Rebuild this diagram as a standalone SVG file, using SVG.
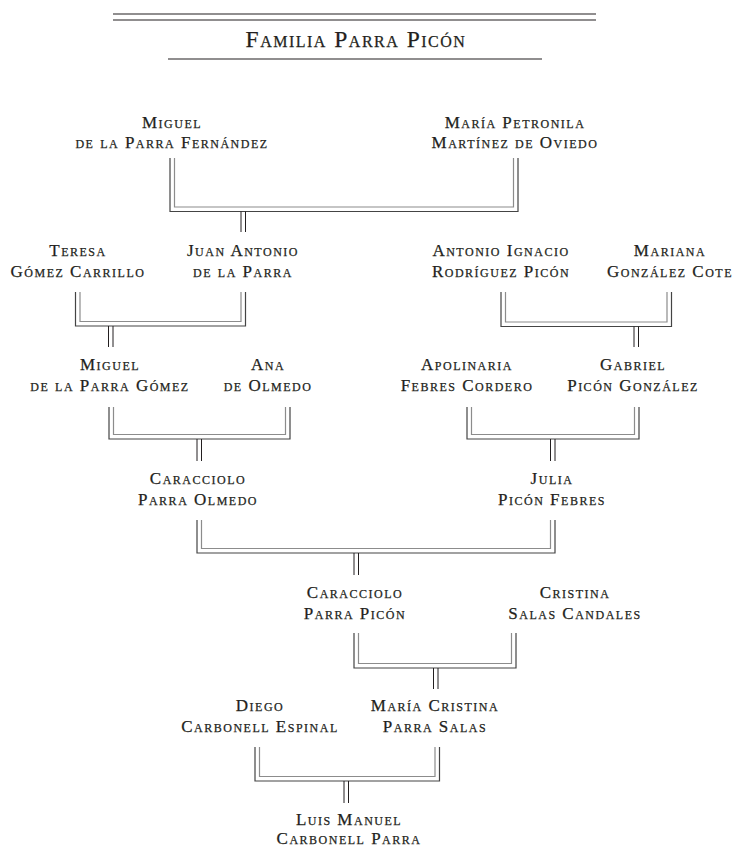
<svg xmlns="http://www.w3.org/2000/svg" width="735" height="848" viewBox="0 0 735 848">
<style>
text{font-family:"Liberation Serif","Times New Roman",serif;font-variant:small-caps;fill:#231f20;text-anchor:middle;stroke:#231f20;stroke-width:0.25}
.t{font-size:23.5px;letter-spacing:1.5px}
.n{font-size:17px;letter-spacing:1.5px}
.rule{stroke:#231f20;stroke-width:1.2;fill:none}
.o{stroke:#444;stroke-width:1.2;fill:none}
.i{stroke:#8c8c8c;stroke-width:1.2;fill:none}
.s{stroke:#231f20;stroke-width:1;fill:none}
</style>
<rect width="735" height="848" fill="#fff"/>
<g id="header">
<line class="rule" x1="113" y1="14" x2="596" y2="14"/>
<line class="rule" x1="113" y1="20" x2="596" y2="20"/>
<text class="t" x="356" y="47">Familia Parra Picón</text>
<line class="rule" x1="168" y1="59" x2="542" y2="59"/>
</g>
<g id="connectors">
<path class="o" d="M170,158V211.5H518V158"/><path class="i" d="M174.5,158V207H513.5V158"/>
<path class="s" d="M241,211.5V232M245.5,211.5V232"/>
<path class="o" d="M75.5,292V326H245.5V292"/><path class="i" d="M80,292V321.5H241V292"/>
<path class="s" d="M108.5,326V347M113,326V347"/>
<path class="o" d="M501,292V326.5H671.5V292"/><path class="i" d="M505.5,292V322H667V292"/>
<path class="s" d="M634,326.5V347M638.5,326.5V347"/>
<path class="o" d="M109,407V439H290V407"/><path class="i" d="M113.5,407V434.5H285.5V407"/>
<path class="s" d="M197,439V461M201.5,439V461"/>
<path class="o" d="M467,407V439H639V407"/><path class="i" d="M471.5,407V434.5H634.5V407"/>
<path class="s" d="M550.5,439V461M555,439V461"/>
<path class="o" d="M197,520V553H555V520"/><path class="i" d="M201.5,520V548.5H550.5V520"/>
<path class="s" d="M354,553V575M358.5,553V575"/>
<path class="o" d="M354,633V668H516V633"/><path class="i" d="M358.5,633V663.5H511.5V633"/>
<path class="s" d="M433.5,668V689M438,668V689"/>
<path class="o" d="M255,747V781H439.5V747"/><path class="i" d="M259.5,747V776.5H435V747"/>
<path class="s" d="M344,781V803M348.5,781V803"/>
</g>
<g id="miguel-parra-fernandez"><text class="n" x="172" y="128">Miguel</text><text class="n" x="172" y="148">de la Parra Fernández</text></g>
<g id="maria-petronila"><text class="n" x="515" y="128">María Petronila</text><text class="n" x="515" y="148">Martínez de Oviedo</text></g>
<g id="teresa"><text class="n" x="78" y="256">Teresa</text><text class="n" x="78" y="277">Gómez Carrillo</text></g>
<g id="juan-antonio"><text class="n" x="243" y="256">Juan Antonio</text><text class="n" x="243" y="277">de la Parra</text></g>
<g id="antonio-ignacio"><text class="n" x="501" y="256">Antonio Ignacio</text><text class="n" x="501" y="277">Rodríguez Picón</text></g>
<g id="mariana"><text class="n" x="670" y="256">Mariana</text><text class="n" x="670" y="277">González Cote</text></g>
<g id="miguel-parra-gomez"><text class="n" x="110" y="370">Miguel</text><text class="n" x="110" y="391">de la Parra Gómez</text></g>
<g id="ana"><text class="n" x="268" y="370">Ana</text><text class="n" x="268" y="391">de Olmedo</text></g>
<g id="apolinaria"><text class="n" x="467" y="370">Apolinaria</text><text class="n" x="467" y="391">Febres Cordero</text></g>
<g id="gabriel"><text class="n" x="633" y="370">Gabriel</text><text class="n" x="633" y="391">Picón González</text></g>
<g id="caracciolo-parra-olmedo"><text class="n" x="198" y="484">Caracciolo</text><text class="n" x="198" y="505">Parra Olmedo</text></g>
<g id="julia"><text class="n" x="552" y="484">Julia</text><text class="n" x="552" y="505">Picón Febres</text></g>
<g id="caracciolo-parra-picon"><text class="n" x="355" y="598">Caracciolo</text><text class="n" x="355" y="619">Parra Picón</text></g>
<g id="cristina"><text class="n" x="575" y="598">Cristina</text><text class="n" x="575" y="619">Salas Candales</text></g>
<g id="diego"><text class="n" x="260" y="711">Diego</text><text class="n" x="260" y="732">Carbonell Espinal</text></g>
<g id="maria-cristina"><text class="n" x="435" y="711">María Cristina</text><text class="n" x="435" y="732">Parra Salas</text></g>
<g id="luis-manuel"><text class="n" x="349" y="825">Luis Manuel</text><text class="n" x="349" y="844">Carbonell Parra</text></g>
</svg>
